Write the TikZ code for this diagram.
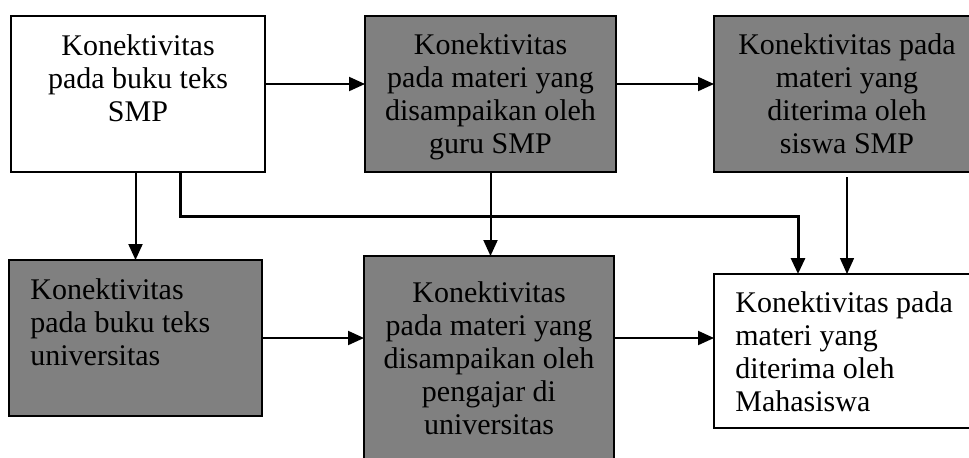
\documentclass[tikz,border=0pt]{standalone}
\usepackage{fontspec}
\setmainfont{Liberation Serif}
\usetikzlibrary{arrows.meta,calc}
\definecolor{boxgray}{RGB}{128,128,128}
\tikzset{
  box/.style={draw=black, line width=1pt, anchor=north west, inner sep=0pt, outer sep=0pt},
  whitebox/.style={box, fill=white},
  graybox/.style={box, fill=boxgray},
  lbl/.style={font=\fontsize{15pt}{16.5pt}\selectfont, inner sep=0pt, anchor=north, align=center},
  lbll/.style={font=\fontsize{15pt}{16.5pt}\selectfont, inner sep=0pt, anchor=north west, align=left},
  arr/.style={line width=1pt, -{Triangle[length=8pt,width=7pt]}},
  arrthick/.style={line width=1.5pt, -{Triangle[length=8pt,width=7pt]}},
  arrthin/.style={line width=0.75pt, -{Triangle[length=8pt,width=7pt]}}
}
\begin{document}
\begin{tikzpicture}[x=0.5pt,y=-0.5pt]
\useasboundingbox (0,0) rectangle (969,457);
\clip (0,0) rectangle (969,457);
\fill[white] (0,0) rectangle (969,457);
% boxes
\node[whitebox, minimum width=127pt, minimum height=78pt] (A) at (11,16) {};
\node[graybox, minimum width=125.5pt, minimum height=78pt] (B) at (365,16) {};
\node[graybox, minimum width=133pt, minimum height=78pt] (C) at (714,16) {};
\node[graybox, minimum width=126.5pt, minimum height=78pt] (D) at (9,260) {};
\node[graybox, minimum width=125pt, minimum height=107pt] (E) at (364,256) {};
\node[whitebox, minimum width=133pt, minimum height=77pt] (F) at (714,274) {};
% labels
\node[lbl] (tA) at ($(A.north)+(0,18)$) {Konektivitas\\pada buku teks\\SMP};
\node[lbl] (tB) at ($(B.north)+(0,17)$) {Konektivitas\\pada materi yang\\disampaikan oleh\\guru SMP};
\node[lbl] (tC) at ($(C.north)+(0,17)$) {Konektivitas pada\\materi yang\\diterima oleh\\siswa SMP};
\node[lbll] (tD) at ($(D.north west)+(21,18)$) {Konektivitas\\pada buku teks\\universitas};
\node[lbl] (tE) at ($(E.north)+(0,25)$) {Konektivitas\\pada materi yang\\disampaikan oleh\\pengajar di\\universitas};
\node[lbll] (tF) at ($(F.north west)+(21,17)$) {Konektivitas pada\\materi yang\\diterima oleh\\Mahasiswa};
% connectors
\draw[arr] ([yshift=5pt]A.east) -- ([yshift=5pt]B.west);
\draw[arr] ([yshift=5pt]B.east) -- ([yshift=5pt]C.west);
\draw[arr] (A.south -| D.north) -- (D.north);
\coordinate (k1) at (180,216);
\coordinate (k2) at (798,216);
\draw[arrthick] (A.south -| k1) -- (k1) -- (k2) -- (F.north -| k2);
\draw[arr] (B.south) -- (B.south |- E.north);
\draw[arrthin] ([yshift=-2.5pt]C.south) -- (C.south |- F.north);
\draw[arr] (D.east) -- (E.west |- D.east);
\draw[arr] (E.east |- D.east) -- (F.west |- D.east);
\end{tikzpicture}
\end{document}
